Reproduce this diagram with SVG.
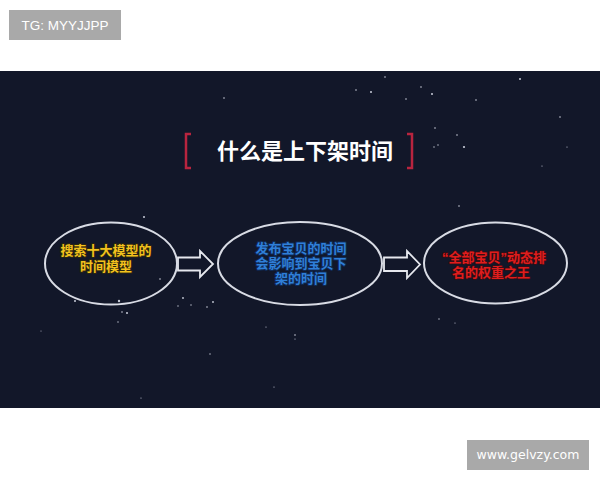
<svg xmlns="http://www.w3.org/2000/svg" width="600" height="480" viewBox="0 0 600 480">
<style>
.lbl{font-family:"Liberation Sans","Noto Sans CJK SC",sans-serif;font-weight:bold;font-size:13px;text-anchor:middle;paint-order:stroke;stroke-linejoin:round}
.ell{fill:none;stroke:#d8dbe4;stroke-width:2}
.arr{fill:none;stroke:#e6e8ee;stroke-width:1.8;stroke-linejoin:miter}
.star{fill:#c8ccd8}
</style>
<rect width="600" height="480" fill="#ffffff"/>
<g id="tag-top">
<rect x="9" y="10" width="112" height="30" fill="#a9a9a9"/>
<text x="65" y="30" font-family="Liberation Sans, sans-serif" font-size="13.5" fill="#ffffff" text-anchor="middle">TG: MYYJJPP</text>
</g>
<rect id="panel" x="0" y="71" width="600" height="337" fill="#121729"/>
<g id="stars">
<circle class="star" cx="224" cy="98" r="0.8"/>
<circle class="star" cx="356" cy="90" r="0.8"/>
<circle class="star" cx="371" cy="92" r="1"/>
<circle class="star" cx="385" cy="77" r="0.8"/>
<circle class="star" cx="406" cy="99" r="0.8"/>
<circle class="star" cx="421" cy="87" r="0.8"/>
<circle class="star" cx="432" cy="94" r="1"/>
<circle class="star" cx="476" cy="100" r="0.8"/>
<circle class="star" cx="520" cy="79" r="1"/>
<circle class="star" cx="560" cy="117" r="0.8"/>
<circle class="star" cx="435" cy="128" r="0.8"/>
<circle class="star" cx="457" cy="135" r="0.8"/>
<circle class="star" cx="464" cy="147" r="1.1"/>
<circle class="star" cx="434" cy="147" r="0.7"/>
<circle class="star" cx="438" cy="145" r="0.7"/>
<circle class="star" cx="542" cy="166" r="0.6"/>
<circle class="star" cx="567" cy="147" r="0.6"/>
<circle class="star" cx="144" cy="217" r="1"/>
<circle class="star" cx="160" cy="279" r="0.8"/>
<circle class="star" cx="459" cy="206" r="0.8"/>
<circle class="star" cx="75" cy="301" r="1"/>
<circle class="star" cx="119" cy="301" r="1.2"/>
<circle class="star" cx="122" cy="312" r="0.8"/>
<circle class="star" cx="127" cy="313" r="1"/>
<circle class="star" cx="118" cy="322" r="0.7"/>
<circle class="star" cx="183" cy="298" r="0.9"/>
<circle class="star" cx="178" cy="306" r="0.7"/>
<circle class="star" cx="191" cy="305" r="0.7"/>
<circle class="star" cx="207" cy="307" r="0.8"/>
<circle class="star" cx="213" cy="302" r="0.9"/>
<circle class="star" cx="210" cy="354" r="0.7"/>
<circle class="star" cx="266" cy="327" r="0.6"/>
<circle class="star" cx="295" cy="335" r="0.8"/>
<circle class="star" cx="295" cy="339" r="0.6"/>
<circle class="star" cx="439" cy="319" r="0.7"/>
<circle class="star" cx="455" cy="323" r="0.6"/>
<circle class="star" cx="274" cy="387" r="0.6"/>
<circle class="star" cx="141" cy="398" r="0.6"/>
<circle class="star" cx="41" cy="331" r="0.5"/>
</g>
<g id="title">
<path d="M191,134 H186 V168 H191" fill="none" stroke="#b8243f" stroke-width="2.5"/>
<path d="M407,134 H412 V168 H407" fill="none" stroke="#b8243f" stroke-width="2.5"/>
<text x="305" y="159" font-family="Noto Sans CJK SC, sans-serif" font-weight="bold" font-size="22" fill="#ffffff" text-anchor="middle">什么是上下架时间</text>
</g>
<g id="connectors">
<path class="arr" d="M178,257.5 H200 V251 L213,264 L200,277 V270.5 H178 Z"/>
<path class="arr" d="M384,257.5 H407 V251 L420,264.5 L407,278 V271 H384 Z"/>
</g>
<g id="node1">
<ellipse class="ell" cx="111" cy="263.5" rx="66" ry="41"/>
<text class="lbl" x="106" y="255" fill="#f3c21d" stroke="#2a2610" stroke-width="2">搜索十大模型的</text>
<text class="lbl" x="106" y="271" fill="#f3c21d" stroke="#2a2610" stroke-width="2">时间模型</text>
</g>
<g id="node2">
<ellipse class="ell" cx="300" cy="263.5" rx="82" ry="41.5"/>
<text class="lbl" x="301" y="253" fill="#2f7fd8" stroke="#0f2a55" stroke-width="2">发布宝贝的时间</text>
<text class="lbl" x="301" y="268" fill="#2f7fd8" stroke="#0f2a55" stroke-width="2">会影响到宝贝下</text>
<text class="lbl" x="301" y="283" fill="#2f7fd8" stroke="#0f2a55" stroke-width="2">架的时间</text>
</g>
<g id="node3">
<ellipse class="ell" cx="495.5" cy="263" rx="71.5" ry="40.5"/>
<text class="lbl" x="494" y="262" fill="#e01d1d" stroke="#3a0d12" stroke-width="1.5">“全部宝贝”动态排</text>
<text class="lbl" x="491" y="277" fill="#e01d1d" stroke="#3a0d12" stroke-width="1.5">名的权重之王</text>
</g>
<g id="tag-bottom">
<rect x="467" y="440" width="122" height="30" fill="#a9a9a9"/>
<text x="528" y="459" font-family="DejaVu Sans, sans-serif" font-size="12.5" fill="#ffffff" text-anchor="middle">www.gelvzy.com</text>
</g>
</svg>
